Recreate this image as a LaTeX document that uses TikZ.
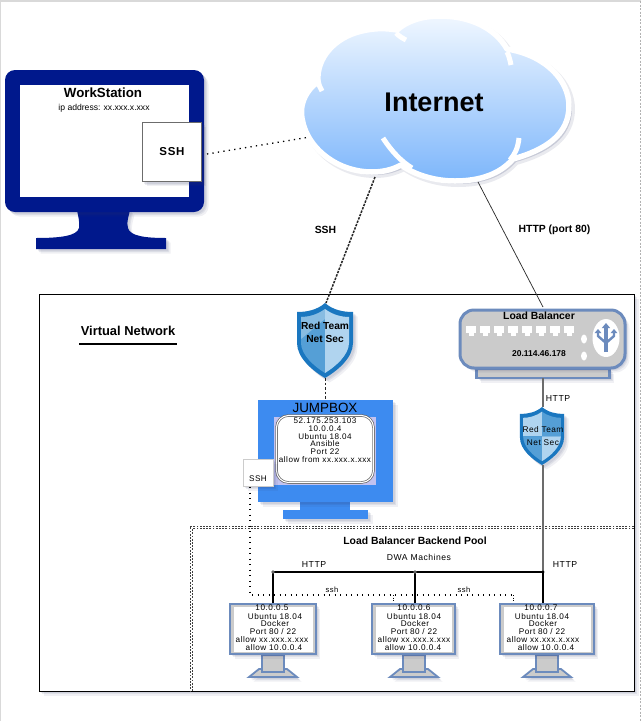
\documentclass[tikz,border=0pt]{standalone}
\usepackage{fontspec}
\setmainfont{Liberation Sans}
\newfontfamily\spaced[LetterSpace=6]{Liberation Sans}
\newfontfamily\spacedb[LetterSpace=6]{Liberation Sans Bold}
\usetikzlibrary{arrows.meta}
\definecolor{wsblue}{HTML}{00188C}
\definecolor{jbblue}{HTML}{3D8BF0}
\definecolor{slate}{HTML}{6C8BBD}
\definecolor{panel}{HTML}{CBCBCB}
\definecolor{shdark}{HTML}{1A77C0}
\definecolor{shmid}{HTML}{559FD6}
\definecolor{shlight}{HTML}{B0D4EF}
\definecolor{cloudtop}{HTML}{F0F7FF}
\definecolor{cloudbot}{HTML}{7DB6FB}
\definecolor{shadowc}{HTML}{30386A}
\tikzset{
  softshadow/.style={
    preaction={fill=#1,opacity=.09,transform canvas={xshift=2pt,yshift=-2pt}},
    preaction={fill=#1,opacity=.09,transform canvas={xshift=3pt,yshift=-3pt}},
    preaction={fill=#1,opacity=.07,transform canvas={xshift=4.5pt,yshift=-4.5pt}}},
  softshadow/.default={shadowc},
  txt/.style={inner sep=0pt,align=center,text=black},
  lbl/.style={txt,font=\bfseries\fontsize{10.4}{12}\selectfont},
  pcline/.style={txt,font=\spaced\fontsize{8.2}{9}\selectfont},
  jbline/.style={txt,font=\spaced\fontsize{8.1}{9}\selectfont},
  sshbox/.style={draw=gray!85!black,fill=white,line width=.9pt,inner sep=0pt,softshadow},
  pcframe/.style={draw=slate,fill=panel,line width=2.4pt,inner sep=0pt,minimum height=50pt,softshadow},
  pcscreen/.style={fill=white,inner sep=0pt,minimum height=45pt},
  dotline/.style={line width=1.3pt,dash pattern=on 1.3pt off 4.2pt,black},
  densedash/.style={line width=1.5pt,dash pattern=on 2.4pt off 1.2pt,black!85},
  bus/.style={line width=1.2pt,black},
  pooledge/.style={line width=.7pt,dash pattern=on 1.8pt off 1.4pt,black!75},
}
\newcommand{\shieldbody}{(0,0) .. controls (-8,7) and (-18,9) .. (-28,9) -- (-28,40) .. controls (-28,55) and (-12,68) .. (0,75) .. controls (12,68) and (28,55) .. (28,40) -- (28,9) .. controls (18,9) and (8,7) .. (0,0) -- cycle}
\newcommand{\pcunit}[4]{% name, left x, right x, center x
  \path[draw=slate,fill=panel,line width=1.8pt,softshadow] (#4-14-10,677) -- (#4-14,669) -- (#4+14,669) -- (#4+14+10,677) -- cycle;
  \path[draw=slate,fill=panel,line width=2pt] (#4-11,655) rectangle (#4+11,672);
  \node[pcframe,minimum width={#3-#2-2.4pt}] (#1) at ({(#2+#3)/2},629) {};
  \node[pcscreen,minimum width={#3-#2-9pt}] (#1s) at ({(#2+#3)/2},629) {};
}
\begin{document}
\begin{tikzpicture}[x=1pt,y=-1pt]
\useasboundingbox (0,0) rectangle (641,721);
\fill[white] (0,0) rectangle (641,721);
% page edge
\draw[gray!30,line width=1.4pt] (0,1) -- (641,1);
\draw[gray!30,line width=1pt] (.5,1) -- (.5,721);
\draw[gray!60,line width=.8pt,dash pattern=on 2pt off 1.5pt] (640,1) -- (640,721);

% --- virtual network
\node[draw=black,line width=.9pt,fill=white,minimum width=595pt,minimum height=397pt,inner sep=0pt,softshadow] (vnet) at (336.5,492.5) {};
\node[txt,font=\bfseries\fontsize{12.9}{15}\selectfont] (vnettxt) at (128,331) {Virtual Network};
\coordinate (ula) at (79,344);
\coordinate (ulb) at (177,344);
\draw[line width=2.6pt,black] (ula) -- (ulb);

% --- backend pool
\coordinate (poolA) at (633.5,526);
\coordinate (poolB) at (190,526);
\coordinate (poolC) at (190,691);
\coordinate (poolD) at (633.5,528.5);
\coordinate (poolE) at (192.5,528.5);
\coordinate (poolF) at (192.5,691);
\draw[pooledge] (poolA) -- (poolB) -- (poolC);
\draw[pooledge] (poolD) -- (poolE) -- (poolF);
\node[txt,font=\bfseries\fontsize{10.4}{12}\selectfont] (pooltxt) at (415,541) {Load Balancer Backend Pool};
\node[txt,font=\spaced\fontsize{8.6}{10}\selectfont] (dwa) at (419,557) {DWA Machines};

% --- workstation monitor
\path[fill=wsblue,softshadow] (36,238) .. controls (60,238) and (77,236) .. (79,228) .. controls (80,222) and (78,216) .. (77,210) -- (130,210) .. controls (129,216) and (126,222) .. (128,228) .. controls (130,236) and (145,238) .. (166,238) -- (166,249) -- (36,249) -- cycle;
\node[fill=wsblue,rounded corners=10pt,minimum width=199pt,minimum height=142pt,inner sep=0pt,softshadow] (ws) at (104.5,141) {};
\node[fill=white,minimum width=169pt,minimum height=112pt,inner sep=0pt] (wss) at (104.5,141) {};
\node[txt,font=\bfseries\fontsize{13.3}{15}\selectfont] (wst) at (103,93) {WorkStation};
\node[txt,font=\fontsize{8.6}{10}\selectfont] (wsip) at (104,108) {ip address: xx.xxx.x.xxx};
\node[sshbox,minimum width=59.5pt,minimum height=59.5pt,font=\spacedb\fontsize{11.5}{13}\selectfont] (wssh) at (172,152) {SSH};

% --- cloud
\coordinate (cl1) at (318,82);
\path[draw=white,line width=5.5pt,line join=round,top color=cloudtop,bottom color=cloudbot,
  preaction={fill=shadowc,opacity=.18,transform canvas={xshift=3pt,yshift=-3pt}},
  preaction={draw=shadowc,line width=6pt,opacity=.10,transform canvas={xshift=3pt,yshift=-3pt}}]
 (cl1) .. controls (306,90) and (301,103) .. (301.5,113)
 .. controls (303,145) and (335,172) .. (372,172)
 .. controls (382,172) and (392,170) .. (401,165)
 .. controls (415,175) and (435,181) .. (455,181)
 .. controls (480,181) and (500,174) .. (513,159)
 .. controls (545,150) and (569,135) .. (569,106)
 .. controls (569,80) and (545,55) .. (507,49)
 .. controls (495,28) and (470,16) .. (440,16)
 .. controls (422,16) and (407,21) .. (397,30)
 .. controls (385,28) and (375,28) .. (362,31)
 .. controls (335,37) and (316,58) .. (318,82) -- cycle;
\draw[white,line width=5pt] (322,91) .. controls (320,88) and (319,85) .. (318,80);
\draw[white,line width=5pt] (406,40) .. controls (402,38) and (399,36) .. (396,33);
\draw[white,line width=5pt] (511,65) .. controls (510,60) and (509,56) .. (507,52);
\draw[white,line width=5pt] (519,138) .. controls (518,148) and (515,154) .. (510,160);
\draw[white,line width=5pt] (383,138) .. controls (392,152) and (402,162) .. (412,168);
\node[txt,font=\bfseries\fontsize{27}{30}\selectfont] (inet) at (434,102) {Internet};
\coordinate (clW) at (310,137);
\coordinate (clS) at (375,177);
\coordinate (clH) at (478,182);

% --- load balancer
\node[draw=slate,fill=panel,line width=2.6pt,minimum width=133pt,minimum height=9pt,inner sep=0pt,softshadow] (lbbase) at (543,373.5) {};
\node[draw=slate,fill=panel,line width=3pt,rounded corners=14pt,minimum width=165pt,minimum height=58pt,inner sep=0pt,softshadow] (lb) at (542.5,339) {};
\foreach \i in {0,...,7}{
  \fill[white] ({466+14*\i},326) rectangle ({476+14*\i},333);
  \fill[white] ({468.5+14*\i},333) rectangle ({473.5+14*\i},335.5);
}
\fill[white] (584,339) ellipse [x radius=3,y radius=4.5];
\fill[white] (584,356) ellipse [x radius=3,y radius=4.5];
\fill[white] (606,338) ellipse [x radius=13.5,y radius=19];
\draw[slate,line width=3.4pt,-{Triangle[width=8pt,length=5pt]}] (606,352) -- (606,323);
\draw[slate,line width=2.4pt,-{Triangle[width=6.5pt,length=4pt]}] (606,343) -- (598,336) -- (598,329);
\draw[slate,line width=2.4pt,-{Triangle[width=6.5pt,length=4pt]}] (606,343) -- (614,336) -- (614,329);
\node[lbl] (lbt) at (539,316) {Load Balancer};
\node[lbl,font=\bfseries\fontsize{8.5}{10}\selectfont] (lbip) at (539,354) {20.114.46.178};

% --- shield 1
\begin{scope}[shift={(325,303)}]
  \path[fill=shdark,softshadow] \shieldbody;
  \fill[shmid] (0,6) .. controls (-8,12) and (-17,14) .. (-24,14) -- (-24,40) .. controls (-24,52) and (-10,64) .. (0,70) -- cycle;
  \fill[shmid!70!white] (0,6) .. controls (-8,12) and (-17,14) .. (-24,14) -- (-24,36) -- (0,16) -- cycle;
  \fill[shlight] (0,6) .. controls (8,12) and (17,14) .. (24,14) -- (24,40) .. controls (24,52) and (10,64) .. (0,70) -- cycle;
\end{scope}
\coordinate (sh1top) at (326,303);
\coordinate (sh1bot) at (325,378);
\node[txt,font=\bfseries\fontsize{10.2}{13}\selectfont] (sh1t) at (325,332) {Red Team\\Net Sec};

% --- shield 2
\begin{scope}[shift={(542,407)},xscale=.786,yscale=.773]
  \path[fill=shdark,softshadow] \shieldbody;
  \fill[shlight] (0,6) .. controls (-8,12) and (-17,14) .. (-24,14) -- (-24,38) -- (0,38) -- cycle;
  \fill[shmid] (0,6) .. controls (8,12) and (17,14) .. (24,14) -- (24,38) -- (0,38) -- cycle;
  \fill[shmid] (-24,38) .. controls (-24,52) and (-10,64) .. (0,70) -- (0,38) -- cycle;
  \fill[shlight] (24,38) .. controls (24,52) and (10,64) .. (0,70) -- (0,38) -- cycle;
\end{scope}
\coordinate (sh2top) at (543,407);
\coordinate (sh2bot) at (543,465);
\node[txt,font=\spaced\fontsize{8.3}{13.2}\selectfont] (sh2t) at (543,436) {Red Team\\Net Sec};

% --- jumpbox
\node[fill=jbblue,minimum width=85pt,minimum height=9pt,inner sep=0pt,softshadow] (jbbase) at (325.5,514.5) {};
\node[fill=jbblue,minimum width=50pt,minimum height=10pt,inner sep=0pt] (jbneck) at (325,506) {};
\node[fill=jbblue,minimum width=135pt,minimum height=102pt,inner sep=0pt,softshadow] (jb) at (325.5,451) {};
\node[txt,font=\fontsize{13.4}{15}\selectfont] (jbt) at (325,407.5) {JUMPBOX};
\node[fill=gray!40!blue!30,minimum width=102pt,minimum height=68pt,inner sep=0pt] (jbg) at (325,451) {};
\node[draw=gray!80!black,fill=white,double=white,double distance=1.1pt,line width=.7pt,rounded corners=12pt,minimum width=97pt,minimum height=67pt,inner sep=0pt] (jbs) at (325,449) {};
\node[jbline] (jb1) at (325,421) {52.175.253.103};
\node[jbline] (jb2) at (325,429) {10.0.0.4};
\node[jbline] (jb3) at (325,436.5) {Ubuntu 18.04};
\node[jbline] (jb4) at (325,444) {Ansible};
\node[jbline] (jb5) at (325,451.5) {Port 22};
\node[jbline] (jb6) at (325,459.5) {allow from xx.xxx.x.xxx};
\node[sshbox,draw=gray!40,minimum width=30pt,minimum height=27pt] (jbssh) at (258,472.5) {};
\node[txt,font=\spaced\fontsize{8.2}{9}\selectfont] (jbsshT) at (258,479) {SSH};

% --- connectors upper
\coordinate (wsA) at (207,154);
\draw[dotline] (wsA) -- (clW);
\draw[densedash] (clS) -- (sh1top);
\coordinate (lbtop) at (543,307);
\draw[black!85,line width=.7pt] (clH) -- (lbtop);
\draw[black!85,line width=.9pt,dash pattern=on 2.5pt off 2pt] (sh1bot) -- (jb.north -| sh1bot);
\coordinate (lbbot) at (543,378);
\coordinate (busR) at (543,572);
\draw[gray!85!black,line width=1.1pt] (lbbot) -- (sh2top);
\draw[gray!85!black,line width=1.1pt] (sh2bot) -- (busR);
\node[txt,font=\spaced\fontsize{8.7}{10}\selectfont] (http0) at (558,399) {HTTP};
\node[lbl] (sshl) at (325.5,230) {SSH};
\node[lbl] (httpl) at (554.5,230) {HTTP (port 80)};

% --- PCs
\pcunit{pca}{229}{317}{273}
\pcunit{pcb}{371}{456}{414}
\pcunit{pcc}{499}{595}{547}

\node[pcline] (a1) at (272,608) {10.0.0.5};
\node[pcline] (a2) at (275,617) {Ubuntu 18.04};
\node[pcline] (a3) at (275,624) {Docker};
\node[pcline] (a4) at (273,631.5) {Port 80 / 22};
\node[pcline] (a5) at (272,639.5) {allow xx.xxx.x.xxx};
\node[pcline] (a6) at (274,647.5) {allow 10.0.0.4};
\node[pcline] (b1) at (414,608) {10.0.0.6};
\node[pcline] (b2) at (414,617) {Ubuntu 18.04};
\node[pcline] (b3) at (415,624) {Docker};
\node[pcline] (b4) at (414,631.5) {Port 80 / 22};
\node[pcline] (b5) at (414,639.5) {allow xx.xxx.x.xxx};
\node[pcline] (b6) at (413,647.5) {allow 10.0.0.4};
\node[pcline] (c1) at (541,608) {10.0.0.7};
\node[pcline] (c2) at (542,617) {Ubuntu 18.04};
\node[pcline] (c3) at (543,624) {Docker};
\node[pcline] (c4) at (542,631.5) {Port 80 / 22};
\node[pcline] (c5) at (543,639.5) {allow xx.xxx.x.xxx};
\node[pcline] (c6) at (546,647.5) {allow 10.0.0.4};

% --- bus
\coordinate (busL) at (273,572);
\coordinate (busM) at (415,572);
\draw[bus] (busL) -- (busR);
\draw[bus] (busL) -- (busL |- pca.north);
\draw[bus] (busM) -- (busM |- pcb.north);
\draw[bus] (busR) -- (busR |- pcc.north);
\fill[gray!80!black] (busL) circle (1.8);
\fill[gray!80!black] (busM) circle (1.8);
\fill[black] (busR) circle (1.6);
\node[txt,font=\spaced\fontsize{8.7}{10}\selectfont] (hl) at (314,564) {HTTP};
\node[txt,font=\spaced\fontsize{8.7}{10}\selectfont] (hr) at (565,564) {HTTP};

% --- ssh dotted
\coordinate (sshA) at (250,487);
\coordinate (sshB) at (250,595);
\coordinate (sshC) at (513,595);
\coordinate (sshD) at (513,602);
\coordinate (sshE) at (393,595);
\coordinate (sshF) at (393,602);
\draw[dotline] (sshA) -- (sshB) -- (sshC);
\draw[dotline,line width=1pt,dash pattern=on 1pt off 1.5pt] (sshC) -- (sshD);
\draw[dotline,line width=1pt,dash pattern=on 1pt off 1.5pt] (sshE) -- (sshF);
\node[txt,font=\spaced\fontsize{7.6}{9}\selectfont] (ssh1) at (332,590) {ssh};
\node[txt,font=\spaced\fontsize{7.6}{9}\selectfont] (ssh2) at (464,590) {ssh};
\end{tikzpicture}
\end{document}
